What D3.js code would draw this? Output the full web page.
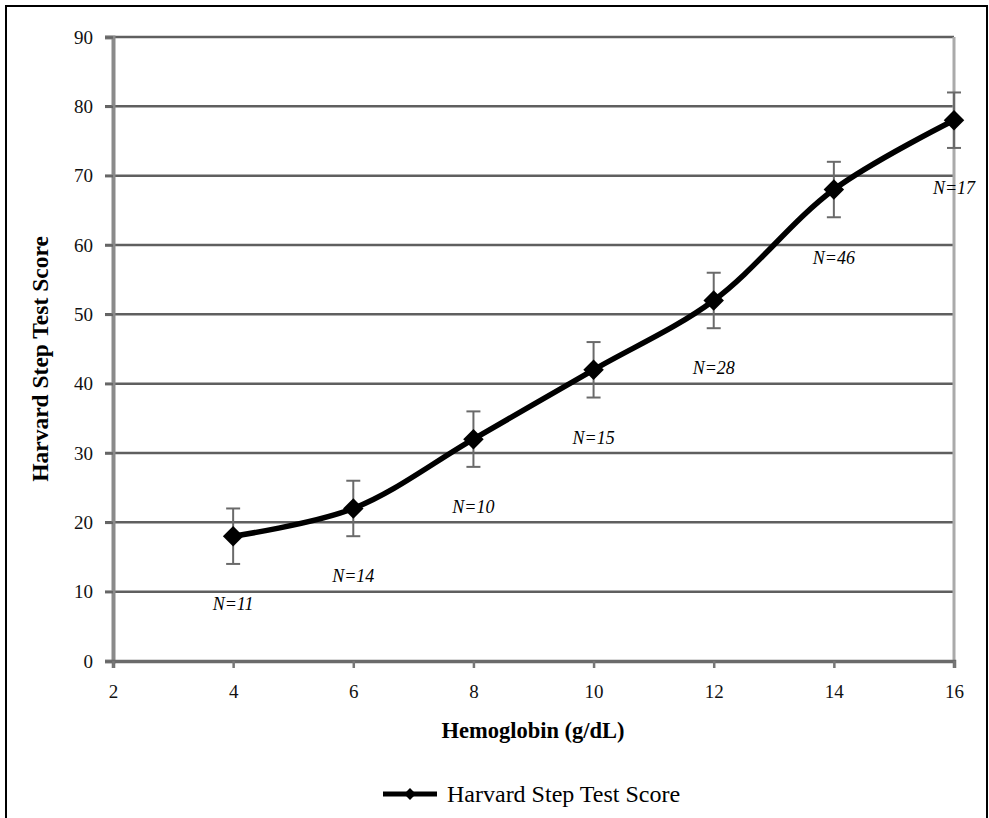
<!DOCTYPE html>
<html>
<head>
<meta charset="utf-8">
<script src="https://cdn.jsdelivr.net/npm/d3@7"></script>
<style>
  body { margin: 0; background: #fff; }
  text { font-family: "Liberation Serif", "Times New Roman", serif; }
</style>
</head>
<body>
<svg id="chart" width="989" height="818"></svg>
<script>
// data
const hemoglobin = [4, 6, 8, 10, 12, 14, 16];
const stepScore = [18, 22, 32, 42, 52, 68, 78];
const errLow = [14, 18, 28, 38, 48, 64, 74];
const errHigh = [22, 26, 36, 46, 56, 72, 82];
const sampleLabels = ["N=11", "N=14", "N=10", "N=15", "N=28", "N=46", "N=17"];
const xTicks = [2, 4, 6, 8, 10, 12, 14, 16];
const yTicks = [0, 10, 20, 30, 40, 50, 60, 70, 80, 90];

const svg = d3.select("#chart");

// outer frame
svg.append("rect")
  .attr("x", 6).attr("y", 6).attr("width", 981).attr("height", 830)
  .attr("fill", "none").attr("stroke", "#000").attr("stroke-width", 2);

const x = d3.scaleLinear().domain([2, 16]).range([113, 954]);
const y = d3.scaleLinear().domain([0, 90]).range([661, 37]);

// horizontal gridlines
svg.append("g")
  .selectAll("line")
  .data(yTicks.filter(d => d > 0))
  .join("line")
  .attr("x1", x(2) - 8).attr("x2", x(16))
  .attr("y1", d => y(d)).attr("y2", d => y(d))
  .attr("stroke", "#5f5f5f").attr("stroke-width", 2.5);

// right border of plot area
svg.append("line")
  .attr("x1", x(16)).attr("x2", x(16))
  .attr("y1", y(90)).attr("y2", y(0))
  .attr("stroke", "#aaa").attr("stroke-width", 3);

// y axis
const yAxis = svg.append("g")
  .attr("transform", `translate(${x(2)},0)`)
  .call(d3.axisLeft(y).tickValues(yTicks).tickSize(8).tickPadding(12));
yAxis.attr("font-family", null);
yAxis.select(".domain").attr("stroke", "#8a8a8a").attr("stroke-width", 4);
yAxis.selectAll(".tick line").attr("stroke", "#666").attr("stroke-width", 2.5);
yAxis.selectAll(".tick text").attr("font-size", 19).attr("fill", "#111");

// x axis
const xAxis = svg.append("g")
  .attr("transform", `translate(0,${y(0)})`)
  .call(d3.axisBottom(x).tickValues(xTicks).tickSize(7).tickPadding(17));
xAxis.attr("font-family", null);
xAxis.select(".domain").attr("stroke", "#6a6a6a").attr("stroke-width", 3.5);
xAxis.selectAll(".tick line").attr("stroke", "#777").attr("stroke-width", 2.5);
xAxis.selectAll(".tick text").attr("font-size", 19).attr("fill", "#111");

// axis titles
svg.append("text")
  .attr("x", 533).attr("y", 738)
  .attr("text-anchor", "middle")
  .attr("font-size", 22.5).attr("font-weight", "bold")
  .text("Hemoglobin (g/dL)");

svg.append("text")
  .attr("transform", "translate(48,359) rotate(-90)")
  .attr("text-anchor", "middle")
  .attr("font-size", 23.5).attr("font-weight", "bold")
  .text("Harvard Step Test Score");

const pts = hemoglobin.map((h, i) => ({
  h, v: stepScore[i], lo: errLow[i], hi: errHigh[i], n: sampleLabels[i]
}));

// error bars
const err = svg.append("g").attr("stroke", "#6a6a6a").attr("stroke-width", 2);
err.selectAll("line.v").data(pts).join("line").attr("class", "v")
  .attr("x1", d => x(d.h)).attr("x2", d => x(d.h))
  .attr("y1", d => y(d.lo)).attr("y2", d => y(d.hi));
err.selectAll("line.t").data(pts).join("line").attr("class", "t")
  .attr("x1", d => x(d.h) - 7).attr("x2", d => x(d.h) + 7)
  .attr("y1", d => y(d.hi)).attr("y2", d => y(d.hi));
err.selectAll("line.b").data(pts).join("line").attr("class", "b")
  .attr("x1", d => x(d.h) - 7).attr("x2", d => x(d.h) + 7)
  .attr("y1", d => y(d.lo)).attr("y2", d => y(d.lo));

// smoothed line
const line = d3.line()
  .x(d => x(d.h)).y(d => y(d.v))
  .curve(d3.curveCatmullRom.alpha(0.5));
svg.append("path")
  .datum(pts)
  .attr("d", line)
  .attr("fill", "none").attr("stroke", "#000").attr("stroke-width", 5.5)
  .attr("stroke-linejoin", "round");

// diamond markers
const diamond = d3.symbol().type(d3.symbolSquare).size(210);
svg.append("g").selectAll("path")
  .data(pts).join("path")
  .attr("d", diamond)
  .attr("transform", d => `translate(${x(d.h)},${y(d.v)}) rotate(45)`)
  .attr("fill", "#000");

// N labels
svg.append("g").selectAll("text")
  .data(pts).join("text")
  .attr("x", d => x(d.h))
  .attr("y", d => y(d.v) + 74)
  .attr("text-anchor", "middle")
  .attr("font-size", 18).attr("font-style", "italic")
  .text(d => d.n);

// legend
const lg = svg.append("g");
lg.append("line")
  .attr("x1", 383).attr("x2", 437).attr("y1", 794).attr("y2", 794)
  .attr("stroke", "#000").attr("stroke-width", 5);
lg.append("path")
  .attr("d", d3.symbol().type(d3.symbolSquare).size(70))
  .attr("transform", "translate(410,794) rotate(45)")
  .attr("fill", "#000");
lg.append("text")
  .attr("x", 447).attr("y", 802)
  .attr("font-size", 24)
  .text("Harvard Step Test Score");
</script>
</body>
</html>
